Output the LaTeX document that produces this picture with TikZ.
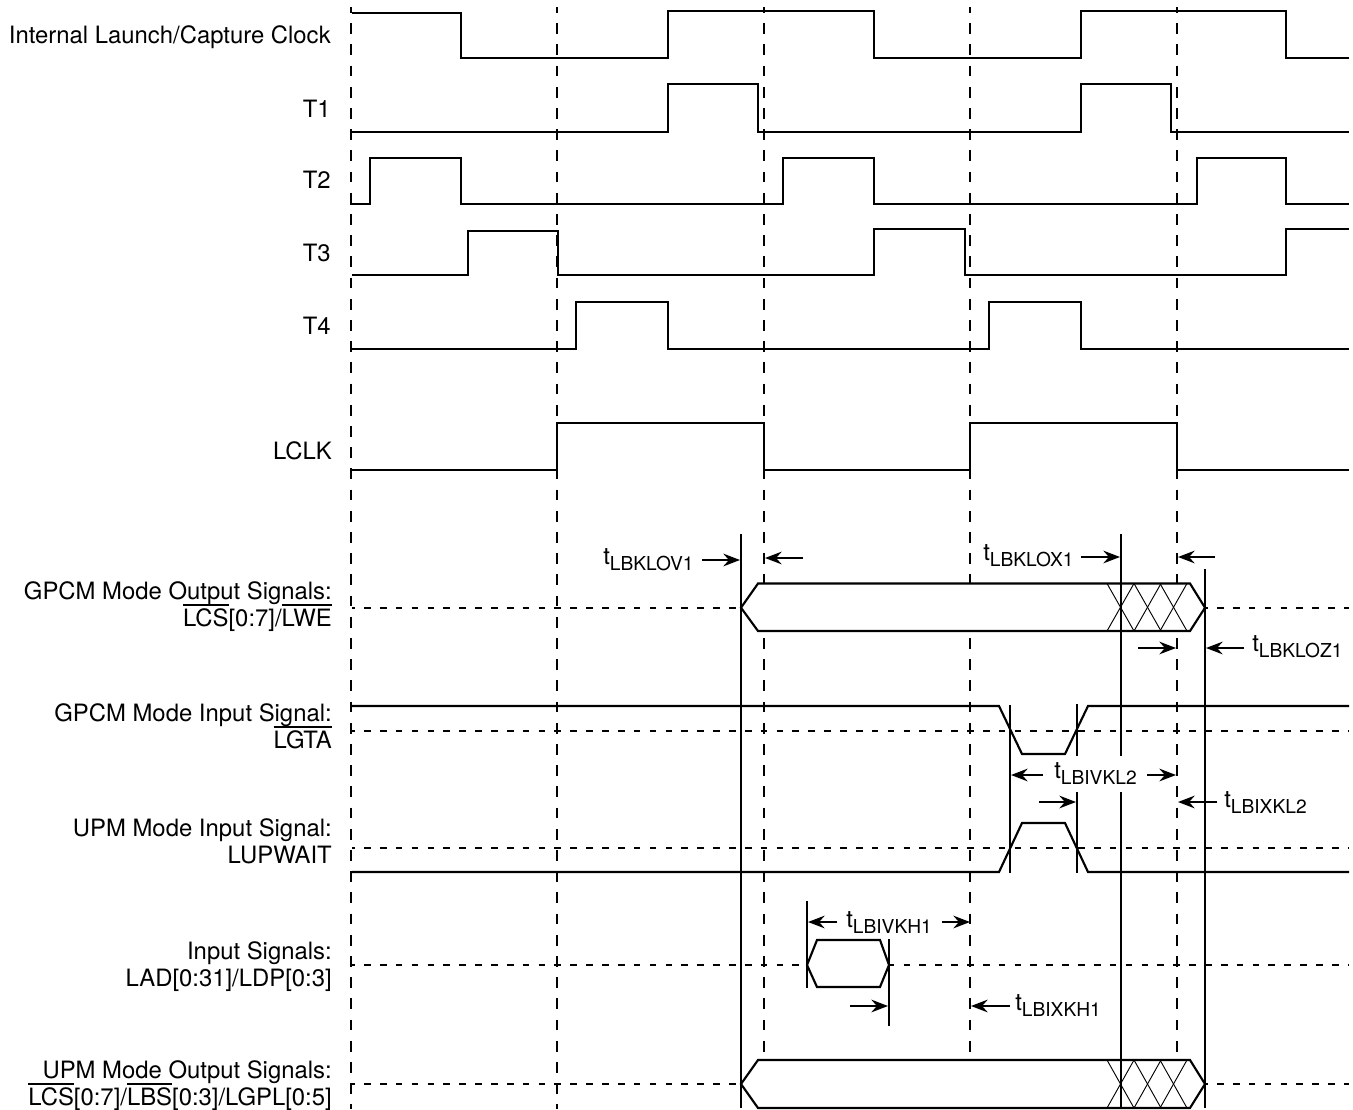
\documentclass[tikz,border=0pt]{standalone}
\usepackage{fontspec}
\setmainfont{TeX Gyre Heros}
\usetikzlibrary{arrows.meta}
\newsavebox\ovlbox
\newcommand\ovl[1]{\leavevmode\sbox\ovlbox{#1}\rlap{\smash{\rule[15.2pt]{\wd\ovlbox}{1.3pt}}}\usebox\ovlbox}
\newcommand\tsub[1]{t{\fontsize{14.4}{14}\selectfont\raisebox{-4.6pt}{#1}}}
\tikzset{
  wave/.style={line width=1.6pt,line join=miter},
  gridv/.style={line width=1.6pt,dash pattern=on 8.1pt off 7.8pt,dash phase=3.75pt},
  gridh/.style={line width=1.5pt,dash pattern=on 5pt off 6.9pt,dash phase=2.85pt},
  solidv/.style={line width=1.5pt},
  busshape/.style={line width=1.6pt,fill=white},
  hatch/.style={line width=.7pt},
  dim/.style={line width=1.5pt,-{Stealth[length=12.5pt,width=9.5pt,inset=4.2pt]}},
  sig/.style={anchor=base east,align=right,font=\fontsize{17.9}{20.25}\selectfont,inner sep=0pt},
  tim/.style={anchor=base west,font=\fontsize{17.9}{20.25}\selectfont,inner sep=0pt},
}
\begin{document}
\begin{tikzpicture}[x=0.75pt,y=-0.75pt]
\useasboundingbox (0,0) rectangle (1353,1110);
% grid
\foreach \x in {351,557,764,970,1177}
  \draw[gridv] (\x,7) -- (\x,1109);
\foreach \y in {731,848,965}
  \draw[gridh] (352,\y) -- (1349,\y);
\draw[gridh] (352,607.7) -- (741,607.7);
\draw[gridh] (1205,607.7) -- (1349,607.7);
\draw[gridh] (352,1084) -- (741,1084);
\draw[gridh] (1205,1084) -- (1349,1084);
% buses
\foreach \t/\m/\b in {583.5/607.7/631,1060/1084/1108}{
  \draw[busshape] (741,\m) -- (758,\t) -- (1190,\t) -- (1205,\m) -- (1190,\b) -- (758,\b) -- cycle;
  \foreach \a in {1107,1134,1160}{
    \draw[hatch] (\a,\t) -- ({\a+27},\b);
    \draw[hatch] (\a,\b) -- ({\a+27},\t);
  }
}
\draw[busshape] (807,965) -- (817,940) -- (880,940) -- (889,965) -- (880,987) -- (817,987) -- cycle;
% solid timing lines
\draw[solidv] (741,534) -- (741,1108);
\draw[solidv] (1121,534) -- (1121,756);
\draw[solidv] (1121,792) -- (1121,1108);
\draw[solidv] (1205,569) -- (1205,1108);
\draw[solidv] (1010,705) -- (1010,873);
\draw[solidv] (1077,704) -- (1077,756);
\draw[solidv] (1077,792) -- (1077,873);
\draw[solidv] (807,901) -- (807,988);
\draw[solidv] (889,939) -- (889,1026);
% waveforms
\draw[wave] (352,13) -- (461,13) -- (461,58) -- (668,58) -- (668,11) -- (874,11) -- (874,58) -- (1081,58) -- (1081,11) -- (1286,11) -- (1286,58) -- (1349,58);
\draw[wave] (352,132) -- (668,132) -- (668,84) -- (758,84) -- (758,132) -- (1081,132) -- (1081,84) -- (1171,84) -- (1171,132) -- (1349,132);
\draw[wave] (350,204) -- (370,204) -- (370,158) -- (461,158) -- (461,204) -- (783,204) -- (783,158) -- (874,158) -- (874,204) -- (1197,204) -- (1197,158) -- (1286,158) -- (1286,204) -- (1349,204);
\draw[wave] (352,275) -- (468,275) -- (468,231) -- (558,231) -- (558,275) -- (874,275) -- (874,229) -- (965,229) -- (965,275) -- (1286,275) -- (1286,229) -- (1349,229);
\draw[wave] (352,349) -- (576,349) -- (576,302) -- (668,302) -- (668,349) -- (989,349) -- (989,302) -- (1081,302) -- (1081,349) -- (1349,349);
\draw[wave] (352,470) -- (557,470) -- (557,423) -- (764,423) -- (764,470) -- (970,470) -- (970,423) -- (1177,423) -- (1177,470) -- (1349,470);
\draw[wave] (352,706) -- (999,706) -- (1022,754) -- (1065,754) -- (1088,706) -- (1349,706);
\draw[wave] (352,872) -- (999,872) -- (1022,823) -- (1065,823) -- (1088,872) -- (1349,872);
% signal labels
\node[sig] (clk) at (331,43) {Internal Launch/Capture Clock};
\node[sig] (t1) at (331,117) {T1};
\node[sig] (t2) at (331,188) {T2};
\node[sig] (t3) at (331,261) {T3};
\node[sig] (t4) at (331,334) {T4};
\node[sig] (lclk) at (332,459) {LCLK};
\node[sig] (gout) at (332,626) {GPCM Mode Output Signals:\\\ovl{LCS}[0:7]/\ovl{LWE}};
\node[sig] (gin) at (332,748) {GPCM Mode Input Signal:\\\ovl{LGTA}};
\node[sig] (uin) at (332,863) {UPM Mode Input Signal:\\LUPWAIT};
\node[sig] (inp) at (332,986) {Input Signals:\\LAD[0:31]/LDP[0:3]};
\node[sig] (uout) at (332,1105) {UPM Mode Output Signals:\\\ovl{LCS}[0:7]/\ovl{LBS}[0:3]/LGPL[0:5]};
% timing labels
\node[tim] (lov) at (603,564) {\tsub{LBKLOV1}};
\node[tim] (lox) at (983,560) {\tsub{LBKLOX1}};
\node[tim] (loz) at (1252,651) {\tsub{LBKLOZ1}};
\node[tim] (ivkl) at (1054,778) {\tsub{LBIVKL2}};
\node[tim] (ixkl) at (1224,807) {\tsub{LBIXKL2}};
\node[tim] (ivkh) at (846,927) {\tsub{LBIVKH1}};
\node[tim] (ixkh) at (1015,1010) {\tsub{LBIXKH1}};
% dimension arrows
\draw[dim] (702,560) -- (740,560);
\draw[dim] (803,558) -- (765,558);
\draw[dim] (1081,557) -- (1120,557);
\draw[dim] (1215,557) -- (1178,557);
\draw[dim] (1138,648) -- (1176,648);
\draw[dim] (1244,648) -- (1206,648);
\draw[dim] (1043,775) -- (1011,775);
\draw[dim] (1147,775) -- (1176,775);
\draw[dim] (1039,802) -- (1076,802);
\draw[dim] (1217,802) -- (1178,802);
\draw[dim] (837,922) -- (808,922);
\draw[dim] (942,922) -- (970,922);
\draw[dim] (850,1006) -- (888,1006);
\draw[dim] (1010,1006) -- (971,1006);
\end{tikzpicture}
\end{document}
